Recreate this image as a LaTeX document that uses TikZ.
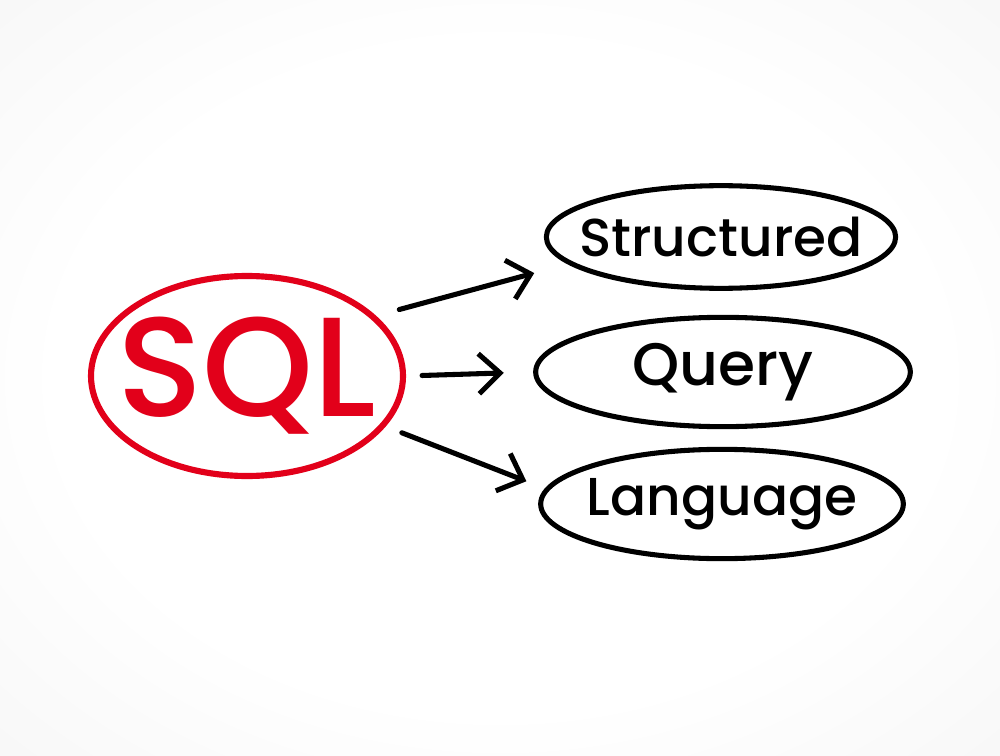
\documentclass[tikz,border=0pt]{standalone}
\usepackage{fontspec}
\setmainfont{Poppins}[UprightFont=* Medium]
\usetikzlibrary{shapes.geometric,arrows.meta}
\tikzset{every picture/.style={line width=0.75pt}}
\definecolor{sqlred}{RGB}{226,0,26}
\definecolor{bggray}{RGB}{228,228,228}
\pgfdeclareradialshading{paper}{\pgfpoint{0bp}{0bp}}{color(0bp)=(white); color(22bp)=(white); color(72bp)=(bggray); color(100bp)=(bggray)}
\tikzset{
  oval/.style={draw, ellipse, inner sep=0pt, line width=3.8pt},
  word/.style={font=\fontsize{40}{48}\selectfont},
  arr/.style={line width=3.8pt, line cap=round, -{Straight Barb[length=16pt,width=30pt,line width=3.8pt]}}
}

\begin{document}
\begin{tikzpicture}[x=0.75pt,y=0.75pt,yscale=-1,xscale=1]
%Background
\shade [shading=paper] (0,0) rectangle (1000,756);
\useasboundingbox (0,0) rectangle (1000,756);

%Shape: Ellipse SQL
\node [oval, draw=sqlred, line width=4.6pt, minimum width=234pt, minimum height=150pt,
  label={[text=sqlred, font=\fontsize{106}{120}\selectfont]center:SQL}] (sql) at (247,376) {};

%Shape: Ellipse words
\node [oval, minimum width=262pt, minimum height=77pt, label={[word]center:Structured}] (struct) at (721,237) {};
\node [oval, minimum width=281pt, minimum height=82pt, label={[word, font=\fontsize{45}{50}\selectfont]center:Query}] (query) at (723,372) {};
\node [oval, minimum width=272pt, minimum height=82pt, label={[word]center:Language}] (lang) at (722,504) {};

%Arrows
\draw [arr, shorten <=18pt, shorten >=26pt] (sql.25) -- (struct.190);
\draw [arr, shorten <=12pt, shorten >=22pt] (sql.east) -- (query.west);
\draw [arr, shorten <=13pt, shorten >=15pt] (sql.-20) -- (lang.175);
\end{tikzpicture}
\end{document}
